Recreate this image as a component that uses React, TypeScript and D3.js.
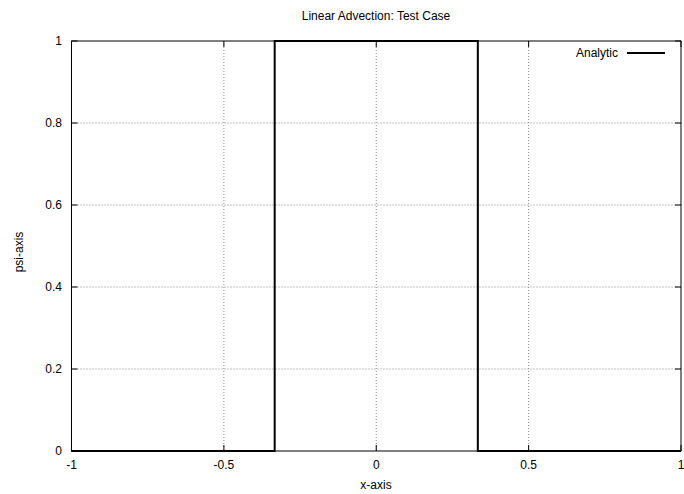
import React from "react";
import * as d3 from "d3";

const xValues = [-1, -0.3333, -0.3333, 0.3333, 0.3333, 1];
const psiValues = [0, 0, 1, 1, 0, 0];
const xTicks = [-1, -0.5, 0, 0.5, 1];
const yTicks = [0, 0.2, 0.4, 0.6, 0.8, 1];
const xTickLabels = ["-1", "-0.5", "0", "0.5", "1"];
const yTickLabels = ["0", "0.2", "0.4", "0.6", "0.8", "1"];
const seriesName = "Analytic";

export default function App() {
  const W = 684, H = 494;
  const left = 71.5, right = 681, top = 41, bottom = 451;
  const x = d3.scaleLinear().domain([-1, 1]).range([left, right]);
  const y = d3.scaleLinear().domain([0, 1]).range([bottom, top]);
  const pts = xValues.map((v, i) => [v, psiValues[i]] as [number, number]);
  const line = d3.line<[number, number]>().x(d => x(d[0])).y(d => y(d[1]));
  const font = "Liberation Sans, Arial, Helvetica, sans-serif";
  const tickLen = 6;
  return (
    <svg width={W} height={H} style={{ position: "absolute", left: 0, top: 0, background: "#fff", display: "block" }} fontFamily={font}>
      <rect x={0} y={0} width={W} height={H} fill="#fff" />
      {xTicks.slice(1, -1).map((t, i) => (
        <line key={"gx" + i} x1={x(t)} x2={x(t)} y1={top} y2={bottom} stroke="#888" strokeWidth={1} strokeDasharray="1,2" />
      ))}
      {yTicks.slice(1, -1).map((t, i) => (
        <line key={"gy" + i} x1={left} x2={right} y1={y(t)} y2={y(t)} stroke="#888" strokeWidth={1} strokeDasharray="1,2" />
      ))}
      {xTicks.map((t, i) => (
        <g key={"tx" + i}>
          <line x1={x(t)} x2={x(t)} y1={bottom} y2={bottom - tickLen} stroke="#000" />
          <line x1={x(t)} x2={x(t)} y1={top} y2={top + tickLen} stroke="#000" />
          <text x={x(t)} y={469} textAnchor="middle" fontSize={12} fill="#000">{xTickLabels[i]}</text>
        </g>
      ))}
      {yTicks.map((t, i) => (
        <g key={"ty" + i}>
          <line x1={left} x2={left + tickLen} y1={y(t)} y2={y(t)} stroke="#000" />
          <line x1={right} x2={right - tickLen} y1={y(t)} y2={y(t)} stroke="#000" />
          <text x={62} y={y(t) + 4} textAnchor="end" fontSize={12} fill="#000">{yTickLabels[i]}</text>
        </g>
      ))}
      <rect x={left} y={top} width={right - left} height={bottom - top} fill="none" stroke="#000" strokeWidth={1} />
      <path d={line(pts) || ""} fill="none" stroke="#000" strokeWidth={2} />
      <text x={618} y={57} textAnchor="end" fontSize={12} fill="#000">{seriesName}</text>
      <line x1={627} x2={665} y1={53} y2={53} stroke="#000" strokeWidth={2} />
      <text x={376} y={20} textAnchor="middle" fontSize={12} fill="#000">Linear Advection: Test Case</text>
      <text x={376} y={489} textAnchor="middle" fontSize={12} fill="#000">x-axis</text>
      <text transform={`translate(23,252) rotate(-90)`} textAnchor="middle" fontSize={12} fill="#000">psi-axis</text>
    </svg>
  );
}
